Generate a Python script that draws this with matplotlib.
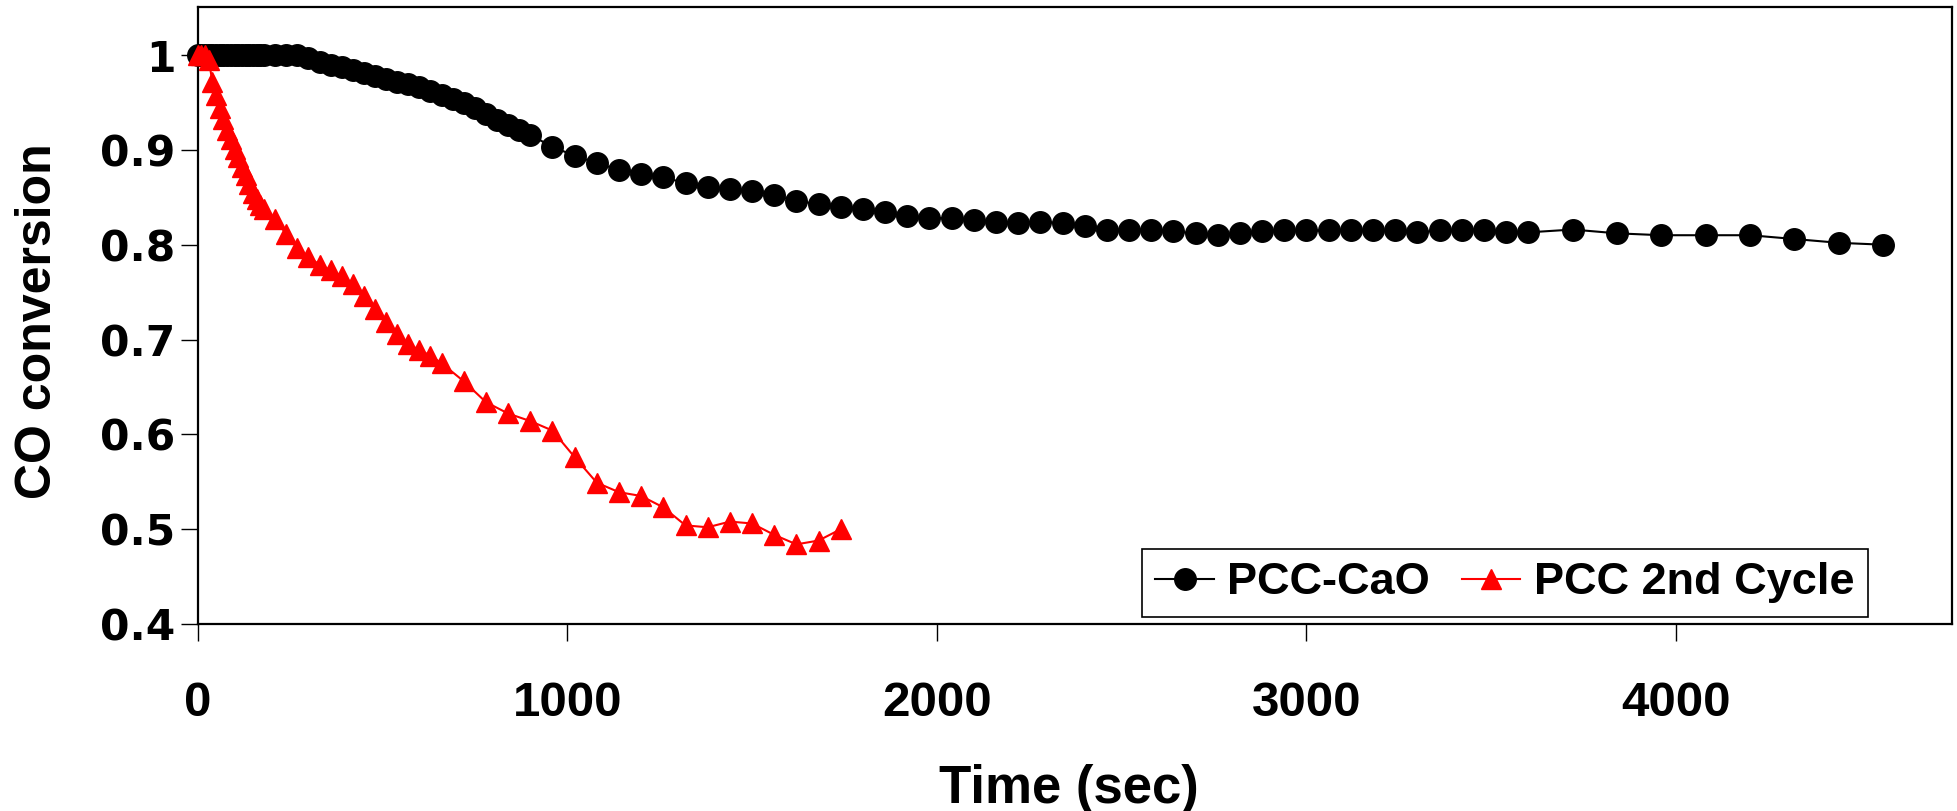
import matplotlib
matplotlib.use('Agg')
import matplotlib.pyplot as plt
from matplotlib import font_manager
from matplotlib.font_manager import FontProperties

# ---------------- data ----------------
black_t = [0, 10, 20, 30, 40, 50, 60, 70, 80, 90, 100, 110, 120, 130, 140, 150, 160, 170, 180,
           210, 240, 270, 300, 330, 360, 390, 420, 450, 480, 510, 540, 570, 600, 630, 660, 690,
           720, 750, 780, 810, 840, 870, 900, 960, 1020, 1080, 1140, 1200, 1260, 1320, 1380,
           1440, 1500, 1560, 1620, 1680, 1740, 1800, 1860, 1920, 1980, 2040, 2100, 2160, 2220,
           2280, 2340, 2400, 2460, 2520, 2580, 2640, 2700, 2760, 2820, 2880, 2940, 3000, 3060,
           3120, 3180, 3240, 3300, 3360, 3420, 3480, 3540, 3600, 3720, 3840, 3960, 4080, 4200,
           4320, 4440, 4560]
black_v = [1.0, 1.0, 1.0, 1.0, 1.0, 1.0, 1.0, 1.0, 1.0, 1.0, 1.0, 1.0, 1.0, 1.0, 1.0, 1.0, 1.0, 1.0, 1.0,
           1.0, 1.0, 1.0, 0.997, 0.993, 0.990, 0.987, 0.984, 0.981, 0.978, 0.975, 0.972, 0.969, 0.966,
           0.962, 0.958, 0.954, 0.949, 0.944, 0.938, 0.932, 0.926, 0.921, 0.916, 0.903, 0.894, 0.886,
           0.879, 0.875, 0.871, 0.865, 0.861, 0.859, 0.857, 0.852, 0.846, 0.843, 0.840, 0.838, 0.834,
           0.830, 0.828, 0.828, 0.826, 0.824, 0.823, 0.824, 0.823, 0.820, 0.816, 0.816, 0.816, 0.814,
           0.812, 0.810, 0.812, 0.814, 0.816, 0.815, 0.815, 0.815, 0.815, 0.815, 0.813, 0.815, 0.816,
           0.816, 0.813, 0.813, 0.816, 0.812, 0.810, 0.810, 0.810, 0.806, 0.802, 0.800]

red_t = [0, 10, 20, 30, 40, 50, 60, 70, 80, 90, 100, 110, 120, 130, 140, 150, 160, 170, 180,
         210, 240, 270, 300, 330, 360, 390, 420, 450, 480, 510, 540, 570, 600, 630, 660, 720,
         780, 840, 900, 960, 1020, 1080, 1140, 1200, 1260, 1320, 1380, 1440, 1500, 1560, 1620,
         1680, 1740]
red_v = [1.0, 1.0, 1.0, 0.995, 0.972, 0.958, 0.944, 0.933, 0.921, 0.911, 0.901, 0.892, 0.882,
         0.873, 0.864, 0.855, 0.848, 0.842, 0.838, 0.827, 0.811, 0.797, 0.787, 0.779, 0.773, 0.767,
         0.759, 0.746, 0.732, 0.718, 0.706, 0.695, 0.689, 0.683, 0.675, 0.656, 0.634, 0.622, 0.614,
         0.604, 0.576, 0.549, 0.539, 0.535, 0.523, 0.504, 0.502, 0.508, 0.506, 0.494, 0.484, 0.488,
         0.500]

series_names = ['PCC-CaO', 'PCC 2nd Cycle']
x_ticks = [0, 1000, 2000, 3000, 4000]
x_tick_labels = ['0', '1000', '2000', '3000', '4000']
y_ticks = [0.4, 0.5, 0.6, 0.7, 0.8, 0.9, 1.0]
y_tick_labels = ['0.4', '0.5', '0.6', '0.7', '0.8', '0.9', '1']
x_title = 'Time (sec)'
y_title = 'CO conversion'

# ---------------- fonts ----------------
installed = {f.name for f in font_manager.fontManager.ttflist}
narrow_ok = 'Liberation Sans Narrow' in installed
NARROW = 'Liberation Sans Narrow' if narrow_ok else 'Liberation Sans'

# ---------------- figure ----------------
W, H = 1957, 811
fig = plt.figure(figsize=(W / 100, H / 100), dpi=100)
left, right, top, bottom = 197.6, 1951.5, 6.7, 624.0
ax = fig.add_axes([left / W, 1 - bottom / H, (right - left) / W, (bottom - top) / H])

ax.plot(black_t, black_v, color='black', lw=1.5, marker='o', ms=15.5,
        mfc='black', mec='black', label=series_names[0], zorder=3, clip_on=False)
ax.plot(red_t, red_v, color='red', lw=1.5, marker='^', ms=15,
        mfc='red', mec='red', label=series_names[1], zorder=4, clip_on=False)

ax.set_xlim(0, 4745)
ax.set_ylim(0.4, 1.051)

ax.set_xticks(x_ticks, labels=x_tick_labels, fontfamily=NARROW,
              fontweight='bold', fontsize=41 if narrow_ok else 35.5)
ax.set_yticks(y_ticks, labels=y_tick_labels, fontfamily='DejaVu Sans',
              fontweight='bold', fontsize=30.5)
ax.tick_params(axis='both', direction='out', length=12, width=1, color='black')
ax.tick_params(axis='x', pad=29)
ax.tick_params(axis='y', pad=4)

for s in ax.spines.values():
    s.set_color('black')
    s.set_linewidth(1.6)

ax.set_xlabel(x_title, fontfamily='Liberation Sans', fontweight='bold', fontsize=38)
ax.xaxis.set_label_coords((1069 - left) / (right - left), -(764 - bottom) / (bottom - top))
ax.set_ylabel(y_title, fontfamily='Liberation Sans', fontweight='bold', fontsize=36)
ax.yaxis.label.set_va('center')
ax.yaxis.set_label_coords((38 - left) / (right - left), (bottom - 321) / (bottom - top))

leg = ax.legend(loc='lower right', bbox_to_anchor=(1868 / W, 1 - 617 / H),
                bbox_transform=fig.transFigure, ncol=2, frameon=True, fancybox=False,
                edgecolor='black', framealpha=1, borderaxespad=0,
                prop=FontProperties(family=NARROW, weight='bold', size=35 if narrow_ok else 32.5),
                handlelength=1.3, handletextpad=0.3, columnspacing=0.7, borderpad=0.3)
leg.get_frame().set_linewidth(1.2)

fig.savefig('out.png', dpi=100)
